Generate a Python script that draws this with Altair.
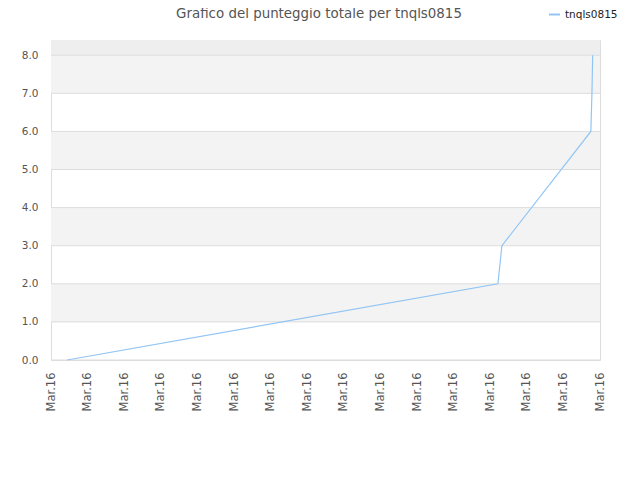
import altair as alt
import pandas as pd

# data
x_hours = [0.44, 12.21, 12.32, 14.75, 14.78, 14.80]
scores = [0, 2, 3, 6, 7, 8]
series_name = "tnqls0815"
title_text = "Grafico del punteggio totale per tnqls0815"
x_ticks = list(range(16))
y_ticks = [0, 1, 2, 3, 4, 5, 6, 7, 8]
band_starts = [1, 3, 5, 7]
tick_label = "Mar.16"

line_color = "#92c5f4"
font = "DejaVu Sans"

df = pd.DataFrame({"x": x_hours, "y": scores, "s": series_name})
bands = pd.DataFrame({"y0": band_starts, "y1": [b + 1 for b in band_starts],
                      "x0": [0] * 4, "x1": [15] * 4})
top_band = pd.DataFrame({"y0": [8], "y1": [8.4], "x0": [0], "x1": [15]})
grid = pd.DataFrame({"y": y_ticks, "x0": [0] * 9, "x1": [15] * 9})
title_df = pd.DataFrame({"t": [title_text]})

xs = alt.Scale(domain=[0, 15], nice=False, zero=False)
ys = alt.Scale(domain=[0, 8.4], nice=False, zero=True)

x_axis = alt.Axis(
    values=x_ticks, labelExpr=f"'{tick_label}'", title=None, grid=False,
    labelAngle=270, labelAlign="right", labelBaseline="middle",
    labelFont=font, labelFontSize=11.5, labelColor="#555555", labelOverlap=False,
    domain=False, ticks=False, labelPadding=12)
y_axis = alt.Axis(
    values=y_ticks, format=".1f", title=None, grid=False,
    labelFont=font, labelFontSize=10.5, labelColor="#555555", labelOverlap=False,
    domain=False, ticks=False, labelPadding=13)

X = lambda f: alt.X(f, scale=xs, axis=x_axis)
Y = lambda f: alt.Y(f, scale=ys, axis=y_axis)

top = alt.Chart(top_band).mark_rect(color="#eeeeee").encode(
    x=X("x0:Q"), x2="x1:Q", y=Y("y0:Q"), y2="y1:Q")
rects = alt.Chart(bands).mark_rect(color="#f3f3f3").encode(
    x=X("x0:Q"), x2="x1:Q", y=Y("y0:Q"), y2="y1:Q")
rules = alt.Chart(grid).mark_rule(color="#dddddd", strokeWidth=1).encode(
    x=X("x0:Q"), x2="x1:Q", y=Y("y:Q"))

line = alt.Chart(df).mark_line(strokeWidth=1.2, interpolate="linear").encode(
    x=X("x:Q"), y=Y("y:Q"),
    color=alt.Color("s:N", scale=alt.Scale(domain=[series_name], range=[line_color]),
                    legend=alt.Legend(title=None, orient="none", legendX=497, legendY=-32,
                                      symbolType="stroke", symbolStrokeWidth=2, symbolSize=120,
                                      labelFont=font, labelFontSize=10.5, labelColor="#222222")),
)

title = alt.Chart(title_df).mark_text(font=font, fontSize=13.4, color="#555555",
                                      align="center", baseline="alphabetic").encode(
    text="t:N", x=alt.value(268), y=alt.value(-22))

chart = alt.layer(top, rects, rules, line, title).properties(
    width=549, height=320,
    autosize=alt.AutoSizeParams(type="none"),
    padding={"left": 43, "top": 32, "right": 32, "bottom": 60},
).configure_view(stroke="#d6d6d6", strokeWidth=1).configure(background="white")

chart.save("out.html", embed_options={"renderer": "svg", "actions": False})
